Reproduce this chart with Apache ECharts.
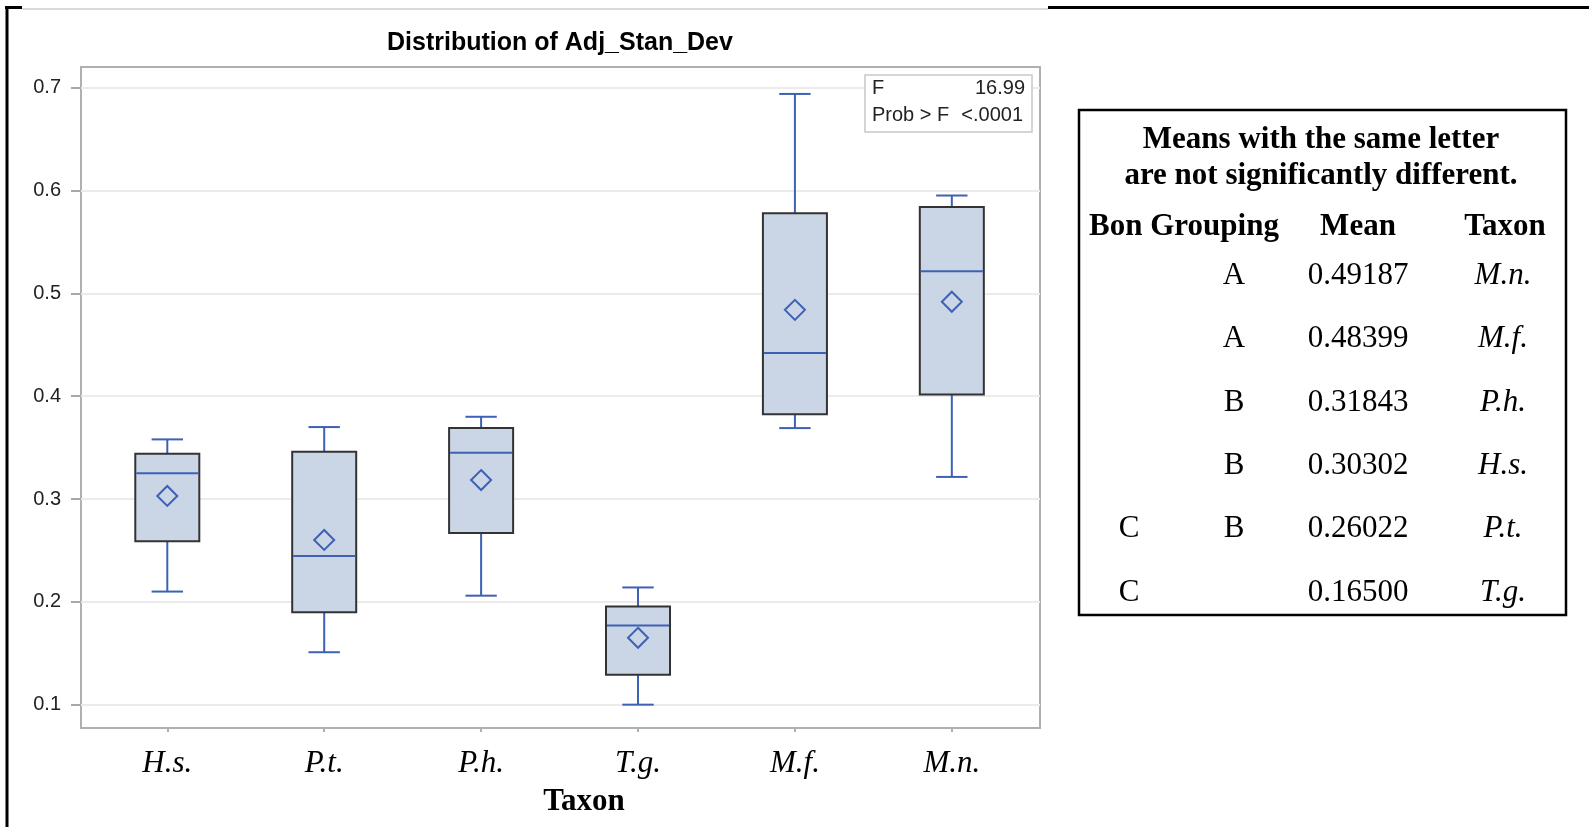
<!DOCTYPE html>
<html><head><meta charset="utf-8">
<script src="https://cdn.jsdelivr.net/npm/echarts@6/dist/echarts.min.js"></script>
<style>html,body{margin:0;padding:0;background:#fff;}#c{width:1589px;height:827px;}</style>
</head><body><div id="c"></div>
<script>
// ---- data ----
const categories = ['H.s.', 'P.t.', 'P.h.', 'T.g.', 'M.f.', 'M.n.'];
const whiskerLow  = [0.210, 0.151, 0.206, 0.100, 0.369, 0.3215];
const q1          = [0.259, 0.190, 0.267, 0.129, 0.3825, 0.4017];
const medians     = [0.325, 0.2445, 0.345, 0.177, 0.442, 0.5216];
const q3          = [0.344, 0.346, 0.369, 0.1955, 0.578, 0.584];
const whiskerHigh = [0.358, 0.370, 0.380, 0.214, 0.694, 0.5952];
const means       = [0.30302, 0.26022, 0.31843, 0.16500, 0.48399, 0.49187];
const yTicks = [0.1, 0.2, 0.3, 0.4, 0.5, 0.6, 0.7];
const chartTitle = 'Distribution of Adj_Stan_Dev';
const xAxisTitle = 'Taxon';
const statLabels = ['F', 'Prob > F'];
const statValues = ['16.99', '<.0001'];
const tableTitle = ['Means with the same letter', 'are not significantly different.'];
const tableHeaders = ['Bon Grouping', 'Mean', 'Taxon'];
const bonC  = ['', '', '', '', 'C', 'C'];
const bonAB = ['A', 'A', 'B', 'B', 'B', ''];
const tableMeans = ['0.49187', '0.48399', '0.31843', '0.30302', '0.26022', '0.16500'];
const tableTaxa  = ['M.n.', 'M.f.', 'P.h.', 'H.s.', 'P.t.', 'T.g.'];

// ---- styles ----
const BLUE = '#3d61b4';
const FILL = '#cad5e6';
const EDGE = '#333333';
const SANS = '"Liberation Sans", Arial, sans-serif';
const SERIF = '"Liberation Serif", "Times New Roman", serif';

const boxData = categories.map((c, i) => [i, whiskerLow[i], q1[i], medians[i], q3[i], whiskerHigh[i]]);
const meanData = categories.map((c, i) => [i, means[i]]);

function txt(text, x, y, font, align, fill) {
  return { type: 'text', silent: true, z: 10,
    style: { text: text, x: x, y: y, font: font, fill: fill || '#000',
      textAlign: align, align: align, textVerticalAlign: 'middle', verticalAlign: 'middle' } };
}

const graphics = [];
// outer frame of the page
graphics.push({ type: 'line', silent: true, z: 1, shape: { x1: 5, y1: 7.5, x2: 1589, y2: 7.5 }, style: { stroke: '#000', lineWidth: 3 } });
graphics.push({ type: 'line', silent: true, z: 1, shape: { x1: 7, y1: 6, x2: 7, y2: 827 }, style: { stroke: '#000', lineWidth: 3 } });
graphics.push({ type: 'rect', silent: true, z: 2, shape: { x: 22, y: 5, width: 1026, height: 5 }, style: { fill: '#fff' } });
graphics.push({ type: 'line', silent: true, z: 3, shape: { x1: 22, y1: 9, x2: 1048, y2: 9 }, style: { stroke: '#d9d9d9', lineWidth: 2 } });
// chart title
graphics.push(txt(chartTitle, 560, 43, 'bold 25px ' + SANS, 'center', '#000'));
// x axis title
graphics.push(txt(xAxisTitle, 584, 802, 'bold 31px ' + SERIF, 'center', '#000'));
// stats inset
graphics.push({ type: 'rect', silent: true, z: 9, shape: { x: 865, y: 75, width: 167, height: 57 }, style: { fill: '#fff', stroke: '#c8c8c8', lineWidth: 1.5 } });
const statRightX = [1025, 1023];
statLabels.forEach((s, i) => {
  graphics.push(txt(s, 872, 88 + i * 27, '20px ' + SANS, 'left', '#222'));
  graphics.push(txt(statValues[i], statRightX[i], 88 + i * 27, '20px ' + SANS, 'right', '#222'));
});
// table
graphics.push({ type: 'rect', silent: true, z: 9, shape: { x: 1079, y: 110, width: 487, height: 505 }, style: { fill: '#fff', stroke: '#000', lineWidth: 2.5 } });
graphics.push(txt(tableTitle[0], 1321, 140, 'bold 31px ' + SERIF, 'center'));
graphics.push(txt(tableTitle[1], 1321, 176, 'bold 31px ' + SERIF, 'center'));
const headerX = [1184, 1358, 1505];
tableHeaders.forEach((h, i) => graphics.push(txt(h, headerX[i], 227, 'bold 31px ' + SERIF, 'center')));
tableMeans.forEach((m, i) => {
  const y = 276 + i * 63.3;
  if (bonC[i]) graphics.push(txt(bonC[i], 1129, y, '31px ' + SERIF, 'center'));
  if (bonAB[i]) graphics.push(txt(bonAB[i], 1234, y, '31px ' + SERIF, 'center'));
  graphics.push(txt(m, 1358, y, '31px ' + SERIF, 'center'));
  graphics.push(txt(tableTaxa[i], 1503, y, 'italic 31px ' + SERIF, 'center'));
});

const chart = echarts.init(document.getElementById('c'), null, { renderer: 'canvas' });
chart.setOption({
  animation: false,
  backgroundColor: '#fff',
  grid: { left: 81, right: 549, top: 67, bottom: 99, show: true, borderColor: '#b0b0b0', borderWidth: 2, backgroundColor: '#fff' },
  xAxis: {
    type: 'value', min: -0.55, max: 5.562, position: 'bottom',
    axisLine: { show: false, onZero: false },
    splitLine: { show: false },
    axisTick: { show: true, length: 4, customValues: categories.map((c, i) => i), lineStyle: { color: '#b0b0b0', width: 2 } },
    axisLabel: { customValues: categories.map((c, i) => i), margin: 20,
      formatter: v => categories[Math.round(v)] || '',
      fontFamily: SERIF, fontStyle: 'italic', fontSize: 31, color: '#000' }
  },
  yAxis: {
    type: 'value', min: 0.0773, max: 0.7202, position: 'left',
    axisLine: { show: false, onZero: false },
    axisTick: { show: true, length: 10, customValues: yTicks, lineStyle: { color: '#a8a8a8', width: 2 } },
    axisLabel: { customValues: yTicks, margin: 20, formatter: v => v.toFixed(1),
      fontFamily: SANS, fontSize: 20, color: '#222' },
    splitLine: { show: true, lineStyle: { color: '#ebebeb', width: 2 } }
  },
  series: [
    {
      type: 'custom', data: boxData, z: 3,
      renderItem: function (params, api) {
        const x = api.value(0);
        const bw = api.size([0.408, 0])[0];
        const cw = api.size([0.2, 0])[0];
        const pLow = api.coord([x, api.value(1)]);
        const pQ1 = api.coord([x, api.value(2)]);
        const pMed = api.coord([x, api.value(3)]);
        const pQ3 = api.coord([x, api.value(4)]);
        const pHigh = api.coord([x, api.value(5)]);
        const cx = pLow[0];
        const ls = { stroke: BLUE, lineWidth: 2 };
        return { type: 'group', children: [
          { type: 'line', shape: { x1: cx, y1: pHigh[1], x2: cx, y2: pQ3[1] }, style: ls },
          { type: 'line', shape: { x1: cx, y1: pQ1[1], x2: cx, y2: pLow[1] }, style: ls },
          { type: 'line', shape: { x1: cx - cw / 2, y1: pHigh[1], x2: cx + cw / 2, y2: pHigh[1] }, style: ls },
          { type: 'line', shape: { x1: cx - cw / 2, y1: pLow[1], x2: cx + cw / 2, y2: pLow[1] }, style: ls },
          { type: 'rect', shape: { x: cx - bw / 2, y: pQ3[1], width: bw, height: pQ1[1] - pQ3[1] }, style: { fill: FILL, stroke: EDGE, lineWidth: 2 } },
          { type: 'line', shape: { x1: cx - bw / 2 + 1, y1: pMed[1], x2: cx + bw / 2 - 1, y2: pMed[1] }, style: ls }
        ] };
      }
    },
    {
      type: 'scatter', data: meanData, z: 5, symbol: 'diamond', symbolSize: 20,
      itemStyle: { color: FILL, borderColor: BLUE, borderWidth: 2, opacity: 1 }
    }
  ],
  graphic: graphics
});
</script>
</body></html>
